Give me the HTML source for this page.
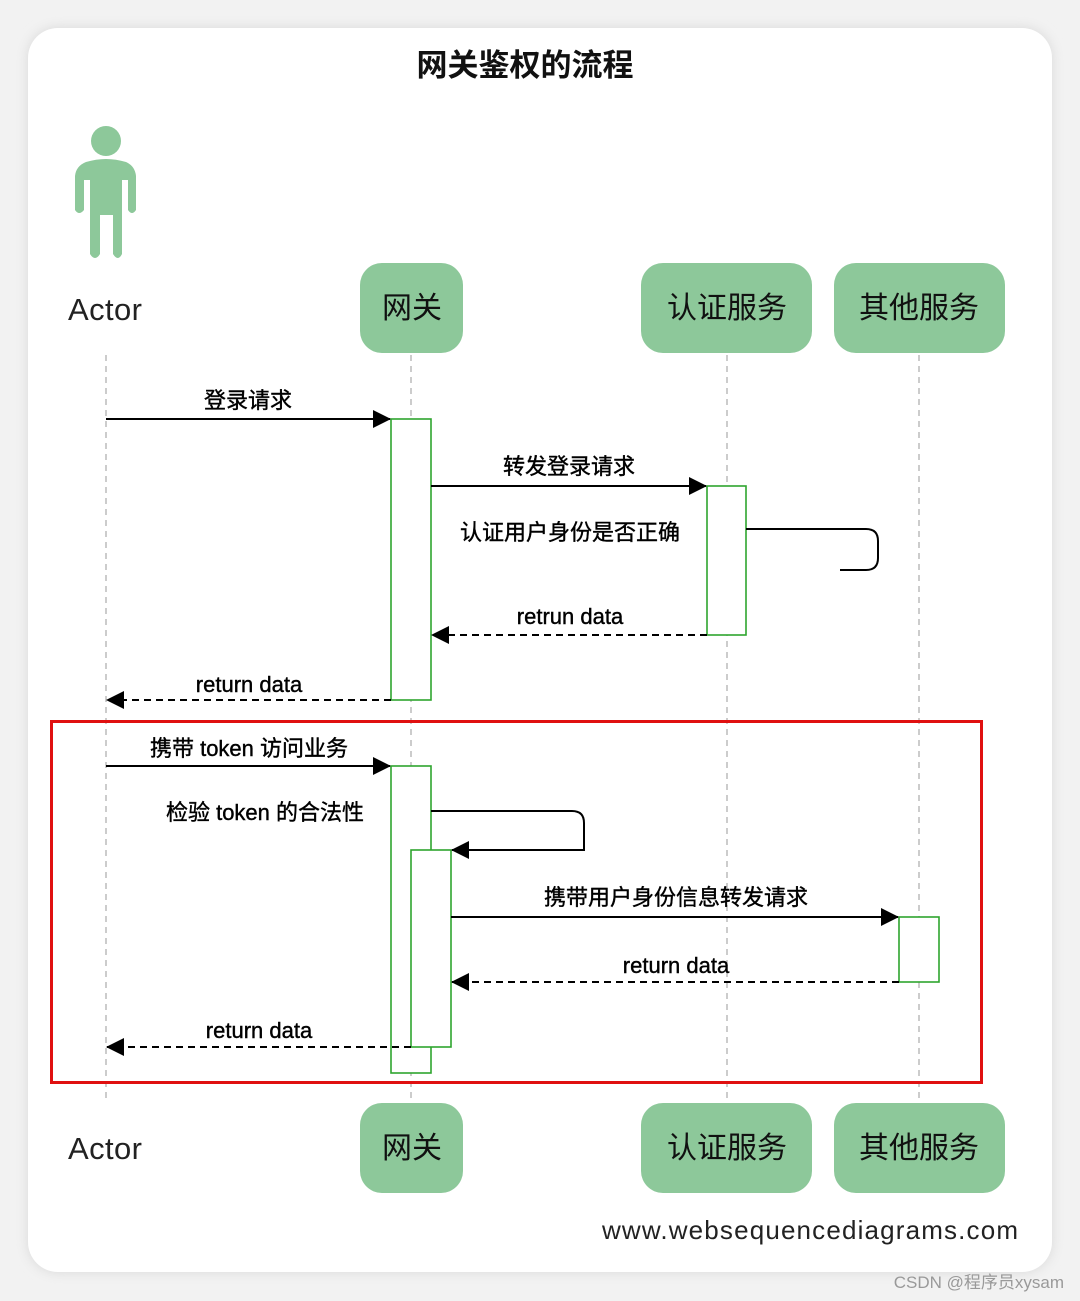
<!DOCTYPE html>
<html><head><meta charset="utf-8"><style>
html,body{margin:0;padding:0;background:#f3f3f3;}
body{width:1080px;height:1301px;position:relative;overflow:hidden;font-family:"Liberation Sans","Noto Sans CJK SC",sans-serif;}
</style></head><body>
<svg width="1080" height="1301" viewBox="0 0 1080 1301" xmlns="http://www.w3.org/2000/svg" style="position:absolute;left:0;top:0">
<defs>
<filter id="sh" x="-5%" y="-5%" width="110%" height="110%"><feGaussianBlur stdDeviation="6"/></filter>
<marker id="ar" markerWidth="18" markerHeight="18" refX="17" refY="9" orient="auto" markerUnits="userSpaceOnUse"><path d="M0,0 L18,9 L0,18 z" fill="#000"/></marker>
</defs>
<rect x="0" y="0" width="1080" height="1301" fill="#f2f2f2"/>
<rect x="28" y="28" width="1024" height="1244" rx="30" fill="#d8d8d8" filter="url(#sh)"/>
<rect x="28" y="28" width="1024" height="1244" rx="30" fill="#fff"/>
<g font-family="Liberation Sans, Noto Sans CJK SC, sans-serif">
<text x="525" y="76" font-size="31" font-weight="bold" text-anchor="middle" fill="#111">网关鉴权的流程</text>
<g stroke="#aaa" stroke-width="1.2" stroke-dasharray="6,5">
<line x1="106" y1="355" x2="106" y2="1100"/><line x1="411" y1="355" x2="411" y2="1100"/>
<line x1="727" y1="355" x2="727" y2="1100"/><line x1="919" y1="355" x2="919" y2="1100"/>
</g>
<g fill="#8dc89a">
<circle cx="106" cy="141" r="15"/>
<path d="M86,162 Q106,156 126,162 Q135,166 136,176 L136,210 Q132,216 128,210 L128,180 L122,180 L122,254 Q118,262 113,254 L113,215 L100,215 L100,254 Q95,262 90,254 L90,180 L84,180 L84,210 Q79,216 75,210 L75,176 Q76,166 86,162z"/>
</g>
<text x="105" y="320" font-size="31" text-anchor="middle" fill="#222" textLength="74">Actor</text>
<text x="105" y="1159" font-size="31" text-anchor="middle" fill="#222" textLength="74">Actor</text>
<g fill="#8dc89a">
<rect x="360" y="263" width="103" height="90" rx="22"/><rect x="641" y="263" width="171" height="90" rx="22"/><rect x="834" y="263" width="171" height="90" rx="22"/>
<rect x="360" y="1103" width="103" height="90" rx="22"/><rect x="641" y="1103" width="171" height="90" rx="22"/><rect x="834" y="1103" width="171" height="90" rx="22"/>
</g>
<g font-size="30" text-anchor="middle" fill="#111">
<text x="412" y="318">网关</text><text x="727" y="318">认证服务</text><text x="919" y="318">其他服务</text>
<text x="412" y="1158">网关</text><text x="727" y="1158">认证服务</text><text x="919" y="1158">其他服务</text>
</g>
<g fill="#fff" stroke="#2ea52e" stroke-width="1.6">
<rect x="391" y="419" width="40" height="281"/>
<rect x="707" y="486" width="39" height="149"/>
<rect x="391" y="766" width="40" height="307"/>
<rect x="411" y="850" width="40" height="197"/>
<rect x="899" y="917" width="40" height="65"/>
</g>
<g stroke="#000" stroke-width="2" fill="none">
<line x1="106" y1="419" x2="390" y2="419" marker-end="url(#ar)"/>
<line x1="431" y1="486" x2="706" y2="486" marker-end="url(#ar)"/>
<path d="M746,529 L866,529 Q878,529 878,541 L878,558 Q878,570 866,570 L840,570"/>
<line x1="707" y1="635" x2="432" y2="635" stroke-dasharray="7,5" marker-end="url(#ar)"/>
<line x1="391" y1="700" x2="107" y2="700" stroke-dasharray="7,5" marker-end="url(#ar)"/>
<line x1="106" y1="766" x2="390" y2="766" marker-end="url(#ar)"/>
<path d="M431,811 L572,811 Q584,811 584,823 L584,850 L452,850" marker-end="url(#ar)"/>
<line x1="451" y1="917" x2="898" y2="917" marker-end="url(#ar)"/>
<line x1="899" y1="982" x2="452" y2="982" stroke-dasharray="7,5" marker-end="url(#ar)"/>
<line x1="411" y1="1047" x2="107" y2="1047" stroke-dasharray="7,5" marker-end="url(#ar)"/>
</g>
<g font-size="22" text-anchor="middle" fill="#000" stroke="#000" stroke-width="0.4">
<text x="248" y="408">登录请求</text>
<text x="569" y="474">转发登录请求</text>
<text x="570" y="540">认证用户身份是否正确</text>
<text x="570" y="624">retrun data</text>
<text x="249" y="692">return data</text>
<text x="249" y="756">携带 token 访问业务</text>
<text x="265" y="820">检验 token 的合法性</text>
<text x="676" y="905">携带用户身份信息转发请求</text>
<text x="676" y="973">return data</text>
<text x="259" y="1038">return data</text>
</g>
<rect x="51.5" y="721.5" width="930" height="361" fill="none" stroke="#e01010" stroke-width="3"/>
<text x="1018" y="1239" font-size="26" text-anchor="end" fill="#222" textLength="416">www.websequencediagrams.com</text>
<text x="1064" y="1288" font-size="17" text-anchor="end" fill="#999">CSDN @程序员xysam</text>
</g>
</svg>
</body></html>
